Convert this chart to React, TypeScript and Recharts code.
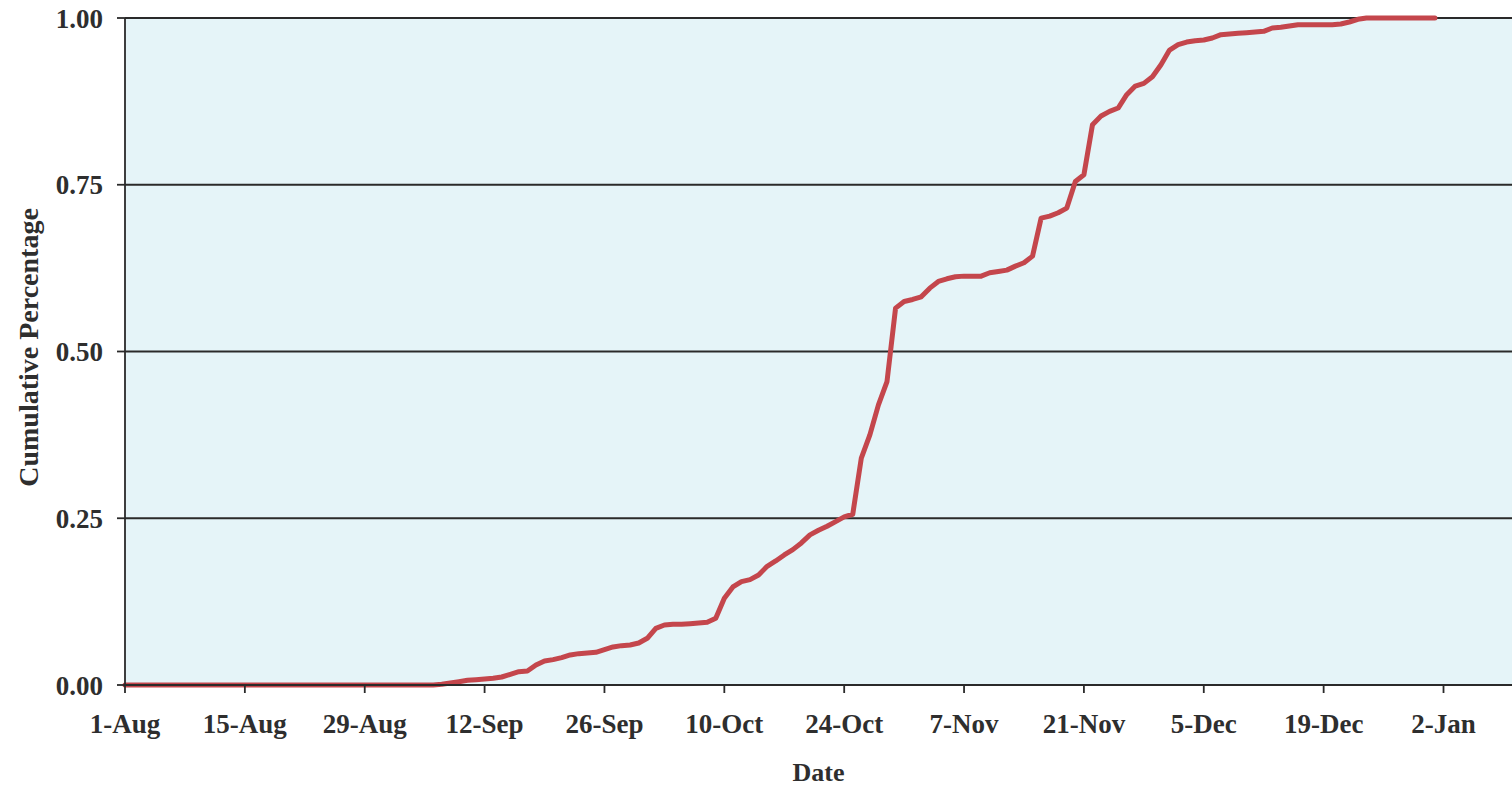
import React from 'react';
import { LineChart, Line, XAxis, YAxis, CartesianGrid } from 'recharts';

// Day index 0 = 1-Aug
const days: number[] = [
  0, 36, 37, 38, 39, 40, 41, 42, 43, 44, 45, 46, 47, 48, 49, 50, 51, 52, 53, 54, 55, 56, 57, 58, 59,
  60, 61, 62, 63, 64, 65, 66, 67, 68, 69, 70, 71, 72, 73, 74, 75, 76, 77, 78, 79, 80, 81, 82, 83, 84,
  85, 86, 87, 88, 89, 90, 91, 92, 93, 94, 95, 96, 97, 98, 99, 100, 101, 102, 103, 104, 105, 106, 107,
  108, 109, 110, 111, 112, 113, 114, 115, 116, 117, 118, 119, 120, 121, 122, 123, 124, 125, 126, 127,
  128, 129, 130, 131, 132, 133, 134, 135, 136, 137, 138, 139, 140, 141, 142, 143, 144, 145, 153,
];
const cumulative: number[] = [
  0, 0, 0.001, 0.003, 0.005, 0.007, 0.008, 0.009, 0.01, 0.012, 0.016, 0.02, 0.021, 0.03, 0.036, 0.038,
  0.041, 0.045, 0.047, 0.048, 0.049, 0.053, 0.057, 0.059, 0.06,
  0.063, 0.07, 0.085, 0.09, 0.091, 0.091, 0.092, 0.093, 0.094, 0.1, 0.13, 0.147, 0.155, 0.158, 0.165,
  0.178, 0.186, 0.195, 0.203, 0.213, 0.225, 0.232, 0.238, 0.245, 0.252,
  0.256, 0.34, 0.375, 0.42, 0.455, 0.565, 0.575, 0.578, 0.582, 0.595, 0.605, 0.609, 0.612, 0.613, 0.613,
  0.613, 0.618, 0.62, 0.622, 0.628, 0.633, 0.643, 0.7,
  0.703, 0.708, 0.715, 0.755, 0.765, 0.84, 0.853, 0.86, 0.865, 0.885, 0.898, 0.902, 0.912, 0.93, 0.952,
  0.96, 0.964, 0.966, 0.967, 0.97,
  0.975, 0.976, 0.977, 0.978, 0.979, 0.98, 0.985, 0.986, 0.988, 0.99, 0.99, 0.99, 0.99, 0.99, 0.991,
  0.994, 0.998, 1.0, 1.0,
];

const xTicks: number[] = [0, 14, 28, 42, 56, 70, 84, 98, 112, 126, 140, 154];
const xTickLabels: string[] = [
  '1-Aug', '15-Aug', '29-Aug', '12-Sep', '26-Sep', '10-Oct', '24-Oct', '7-Nov', '21-Nov', '5-Dec', '19-Dec', '2-Jan',
];
const yTicks: number[] = [0, 0.25, 0.5, 0.75, 1];

const data = days.map((d, i) => ({ day: d, value: cumulative[i] }));

const FONT = '"Liberation Serif", "Times New Roman", serif';
const TEXT_COLOR = '#2e2e2e';
const tickStyle = { fontFamily: FONT, fontSize: 27, fontWeight: 700, fill: TEXT_COLOR };

const YTitle = (props: any) => {
  const vb = props.viewBox || { x: 0, y: 0, width: 0, height: 0 };
  const cx = vb.x + 28;
  const cy = vb.y + vb.height / 2 - 4;
  return (
    <text
      x={cx}
      y={cy}
      transform={`rotate(-90, ${cx}, ${cy})`}
      textAnchor="middle"
      dominantBaseline="central"
      style={{ fontFamily: FONT, fontSize: 28, fontWeight: 700, fill: TEXT_COLOR }}
    >
      Cumulative Percentage
    </text>
  );
};

export default function App() {
  return (
    <div style={{ position: 'absolute', left: 0, top: 0, width: 1512, height: 786, overflow: 'hidden', background: '#ffffff' }}>
      <LineChart width={1512} height={786} data={data} margin={{ top: 18, right: 0, bottom: 0, left: 0 }}>
        <CartesianGrid
          vertical={false}
          horizontal={true}
          stroke="#2a2a2a"
          strokeWidth={1.8}
          fill="#E5F4F8"
          fillOpacity={1}
          horizontalValues={yTicks}
        />
        <XAxis
          dataKey="day"
          type="number"
          domain={[0, 162]}
          ticks={xTicks}
          tickFormatter={(v: number) => xTickLabels[xTicks.indexOf(v)] ?? ''}
          tick={tickStyle}
          tickSize={8}
          tickMargin={21}
          height={101}
          stroke="#2a2a2a"
          strokeWidth={1.8}
          interval={0}
          label={{ value: 'Date', position: 'insideBottom', offset: 5, style: { fontFamily: FONT, fontSize: 26, fontWeight: 700, fill: TEXT_COLOR } }}
        />
        <YAxis
          type="number"
          domain={[0, 1]}
          ticks={yTicks}
          tickFormatter={(v: number) => v.toFixed(2)}
          tick={tickStyle}
          tickSize={8}
          tickMargin={14}
          width={125}
          stroke="#2a2a2a"
          strokeWidth={1.8}
          interval={0}
          label={{ content: YTitle }}
        />
        <Line
          type="linear"
          dataKey="value"
          stroke="#C4464C"
          strokeWidth={5}
          dot={false}
          isAnimationActive={false}
          strokeLinejoin="round"
          strokeLinecap="round"
        />
      </LineChart>
    </div>
  );
}
